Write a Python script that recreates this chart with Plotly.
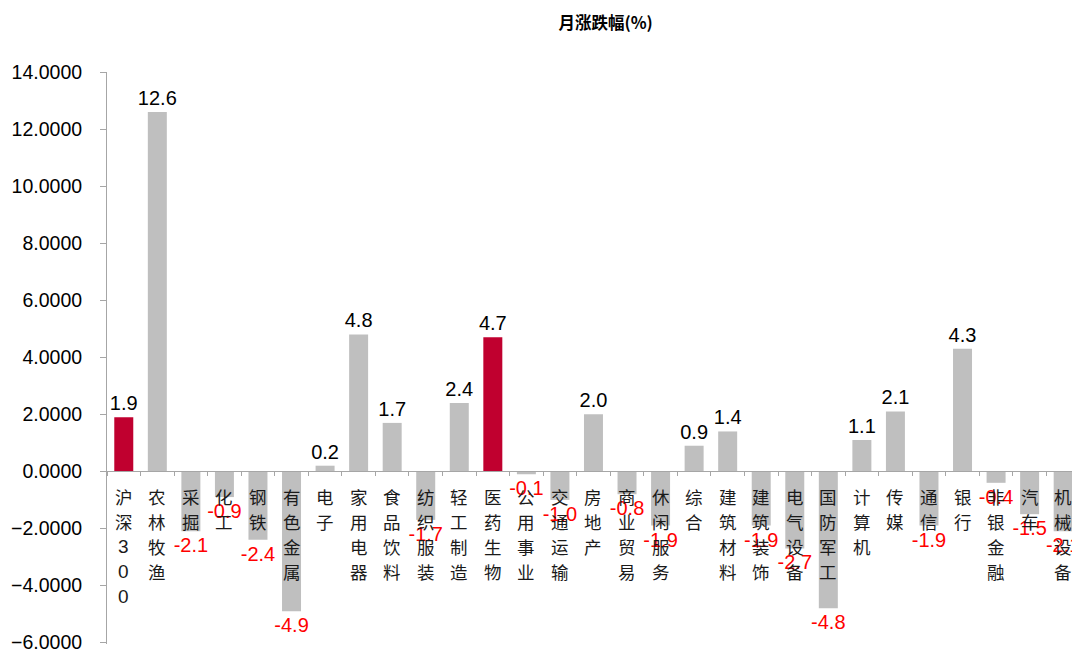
import plotly.graph_objects as go

categories = ["沪深300", "农林牧渔", "采掘", "化工", "钢铁", "有色金属", "电子", "家用电器",
              "食品饮料", "纺织服装", "轻工制造", "医药生物", "公用事业", "交通运输", "房地产",
              "商业贸易", "休闲服务", "综合", "建筑材料", "建筑装饰", "电气设备", "国防军工",
              "计算机", "传媒", "通信", "银行", "非银金融", "汽车", "机械设备"]
values = [1.9, 12.6, -2.1, -0.9, -2.4, -4.9, 0.2, 4.8, 1.7, -1.7, 2.4, 4.7, -0.1, -1.0, 2.0,
          -0.8, -1.9, 0.9, 1.4, -1.9, -2.7, -4.8, 1.1, 2.1, -1.9, 4.3, -0.4, -1.5, -2.1]
highlight = ["沪深300", "医药生物"]
y_ticks = [-6, -4, -2, 0, 2, 4, 6, 8, 10, 12, 14]

GRAY = "#BFBFBF"
RED_BAR = "#C0002F"
AXIS = "#A6A6A6"

x_idx = list(range(len(categories)))
bar_colors = [RED_BAR if c in highlight else GRAY for c in categories]
label_colors = ["#000000" if v >= 0 else "#FF0000" for v in values]

fig = go.Figure()
fig.add_trace(go.Bar(
    x=x_idx, y=values,
    marker=dict(color=bar_colors, line=dict(width=0)),
    text=[f"{v:.1f}" for v in values],
    textposition="outside",
    textfont=dict(family="Liberation Sans, Arial", size=20, color=label_colors),
    constraintext="none",
    cliponaxis=False,
    hoverinfo="skip",
))

annotations = []
for i, cat in enumerate(categories):
    for j, ch in enumerate(cat):
        is_digit = ch.isdigit()
        annotations.append(dict(
            x=i, y=0, xref="x", yref="y",
            text=ch, showarrow=False,
            xanchor="center", yanchor="middle",
            yshift=-(25.5 + 24.8 * j),
            font=dict(family="Liberation Sans, Arial" if is_digit else "Noto Sans CJK SC",
                      size=19 if is_digit else 17.5, color="#1a1a1a"),
        ))

y_lo, y_hi = -6.05, 14.0
fig.update_layout(
    width=1072, height=653,
    margin=dict(l=107, r=0, t=72, b=6),
    paper_bgcolor="white", plot_bgcolor="white",
    bargap=0.434,
    showlegend=False,
    title=dict(text="<b>月涨跌幅(%)</b>", x=0.565, xanchor="center",
               y=1 - 23 / 653, yanchor="middle",
               font=dict(family="Noto Sans CJK SC", size=16.5, color="#000000")),
    annotations=annotations,
    xaxis=dict(
        type="linear",
        range=[-0.5, -0.5 + 965 / 33.55],
        anchor="free", position=(0 - y_lo) / (y_hi - y_lo),
        showline=True, linecolor=AXIS, linewidth=1,
        ticks="outside", ticklen=4, tickcolor=AXIS,
        tickvals=[i - 0.5 for i in range(len(categories) + 1)],
        showticklabels=False,
        showgrid=False, zeroline=False,
    ),
    yaxis=dict(
        range=[y_lo, y_hi],
        tickvals=y_ticks, tickformat=".4f",
        showline=True, linecolor=AXIS, linewidth=1,
        ticks="outside", ticklen=6, tickcolor=AXIS,
        ticklabelstandoff=14,
        ticklabeloverflow="allow",
        tickfont=dict(family="Liberation Sans, Arial", size=19.5, color="#000000"),
        showgrid=False, zeroline=False,
    ),
)

fig.write_html("out.html")
